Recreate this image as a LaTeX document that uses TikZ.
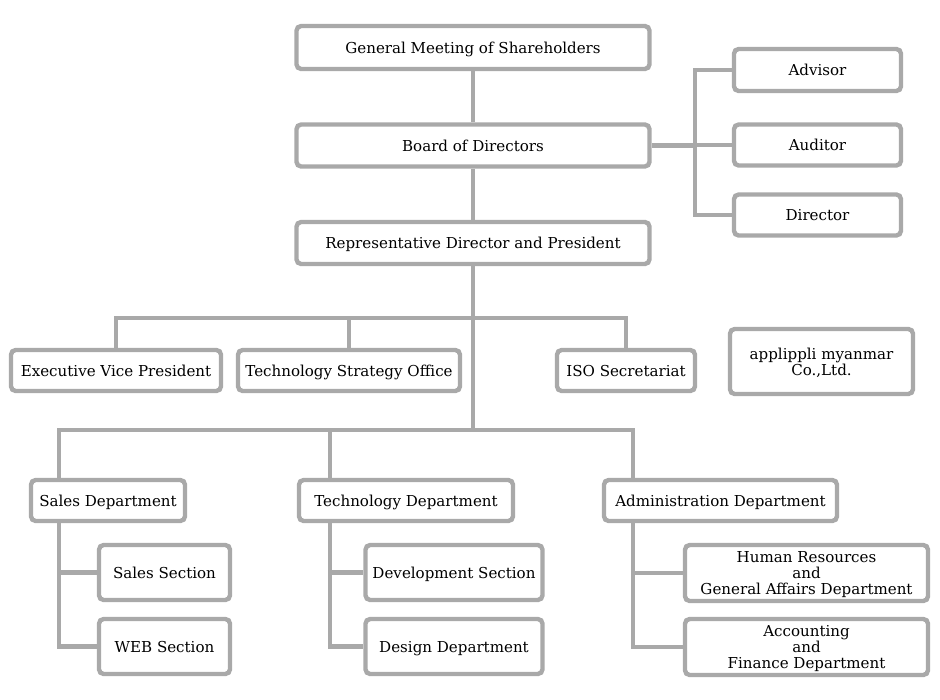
\documentclass[tikz,border=0pt]{standalone}
\usepackage{fontspec}
\setmainfont{DejaVu Serif}
\usepackage{tikz}

\definecolor{linegray}{HTML}{A9A9A9}

\begin{document}
\begin{tikzpicture}[x=0.75pt,y=-0.75pt,
                    unit/.style={draw=linegray,line width=3.3pt,rounded corners=3.5pt,
                        fill=white,inner sep=0pt,align=center,text depth=0pt,
                        font=\fontsize{11.3}{12}\selectfont},
                    link/.style={draw=linegray,line width=3.3pt}
                ]

                \useasboundingbox (0,0) rectangle (940,700);

                % The helper lines
                \coordinate (upper) at (0,318);
                \coordinate (lower) at (0,430);
                \coordinate (salesx) at (59,0);
                \coordinate (techx) at (330,0);
                \coordinate (adminx) at (633,0);
                \coordinate (sidex) at (695,0);

                % The boxes
                \node[unit,minimum width=264.75pt,minimum height=32.25pt] (gm) at (473,47.5) {General Meeting of Shareholders};
                \node[unit,minimum width=264.75pt,minimum height=31.5pt] (board) at (473,145.5) {Board of Directors};
                \node[unit,minimum width=264.75pt,minimum height=31.5pt] (rep) at (473,243) {Representative Director and President};

                \node[unit,minimum width=125.25pt,minimum height=31.5pt] (advisor) at (817.5,70) {Advisor};
                \node[unit,minimum width=125.25pt,minimum height=30.75pt] (auditor) at (817.5,145) {Auditor};
                \node[unit,minimum width=125.25pt,minimum height=30.75pt] (director) at (817.5,215) {Director};

                \node[unit,minimum width=157.5pt,minimum height=30.75pt] (evp) at (116,370.5) {Executive Vice President};
                \node[unit,minimum width=166.5pt,minimum height=30.75pt] (tso) at (349,370.5) {Technology Strategy Office};
                \node[unit,minimum width=103.5pt,minimum height=30.75pt] (iso) at (626,370.5) {ISO Secretariat};
                \node[unit,minimum width=137.25pt,minimum height=48.75pt] (myanmar) at (821.5,361.5) {applippli myanmar\\Co.,Ltd.};

                \node[unit,minimum width=115.5pt,minimum height=30.75pt] (sales) at (108,500.5) {Sales Department};
                \node[unit,minimum width=160.5pt,minimum height=30.75pt] (tech) at (406,500.5) {Technology Department};
                \node[unit,minimum width=174.75pt,minimum height=30.75pt] (admin) at (720.5,500.5) {Administration Department};

                \node[unit,minimum width=98.25pt,minimum height=41.25pt] (salessec) at (164.5,572.5) {Sales Section};
                \node[unit,minimum width=98.25pt,minimum height=41.25pt] (web) at (164.5,646.5) {WEB Section};
                \node[unit,minimum width=132.75pt,minimum height=41.25pt] (dev) at (454,572.5) {Development Section};
                \node[unit,minimum width=132.75pt,minimum height=41.25pt] (design) at (454,646.5) {Design Department};
                \node[unit,minimum width=182.25pt,minimum height=42pt] (hr) at (806.5,573) {Human Resources\\and\\General Affairs Department};
                \node[unit,minimum width=182.25pt,minimum height=42pt] (finance) at (806.5,647) {Accounting\\and\\Finance Department};

                % The top links
                \draw[link] (gm.south) -- (board.north);
                \draw[link] (board.south) -- (rep.north);
                \draw[link] (board.east) -- (sidex |- board.east);
                \draw[link] (advisor.west) -| (sidex |- director.west) -- (director.west);
                \draw[link] (sidex |- auditor.west) -- (auditor.west);

                % The middle links
                \draw[link] (rep.south) -- (rep |- lower);
                \draw[link] (evp.north) |- (iso.north |- upper) -- (iso.north);
                \draw[link] (tso.north) -- (tso.north |- upper);

                % The lower links
                \draw[link] (salesx |- sales.north) |- (adminx |- lower) -- (adminx |- admin.north);
                \draw[link] (techx |- lower) -- (techx |- tech.north);

                \draw[link] (salesx |- sales.south) |- (web.west);
                \draw[link] (salesx |- salessec.west) -- (salessec.west);
                \draw[link] (techx |- tech.south) |- (design.west);
                \draw[link] (techx |- dev.west) -- (dev.west);
                \draw[link] (adminx |- admin.south) |- (finance.west);
                \draw[link] (adminx |- hr.west) -- (hr.west);
            \end{tikzpicture}
\end{document}
